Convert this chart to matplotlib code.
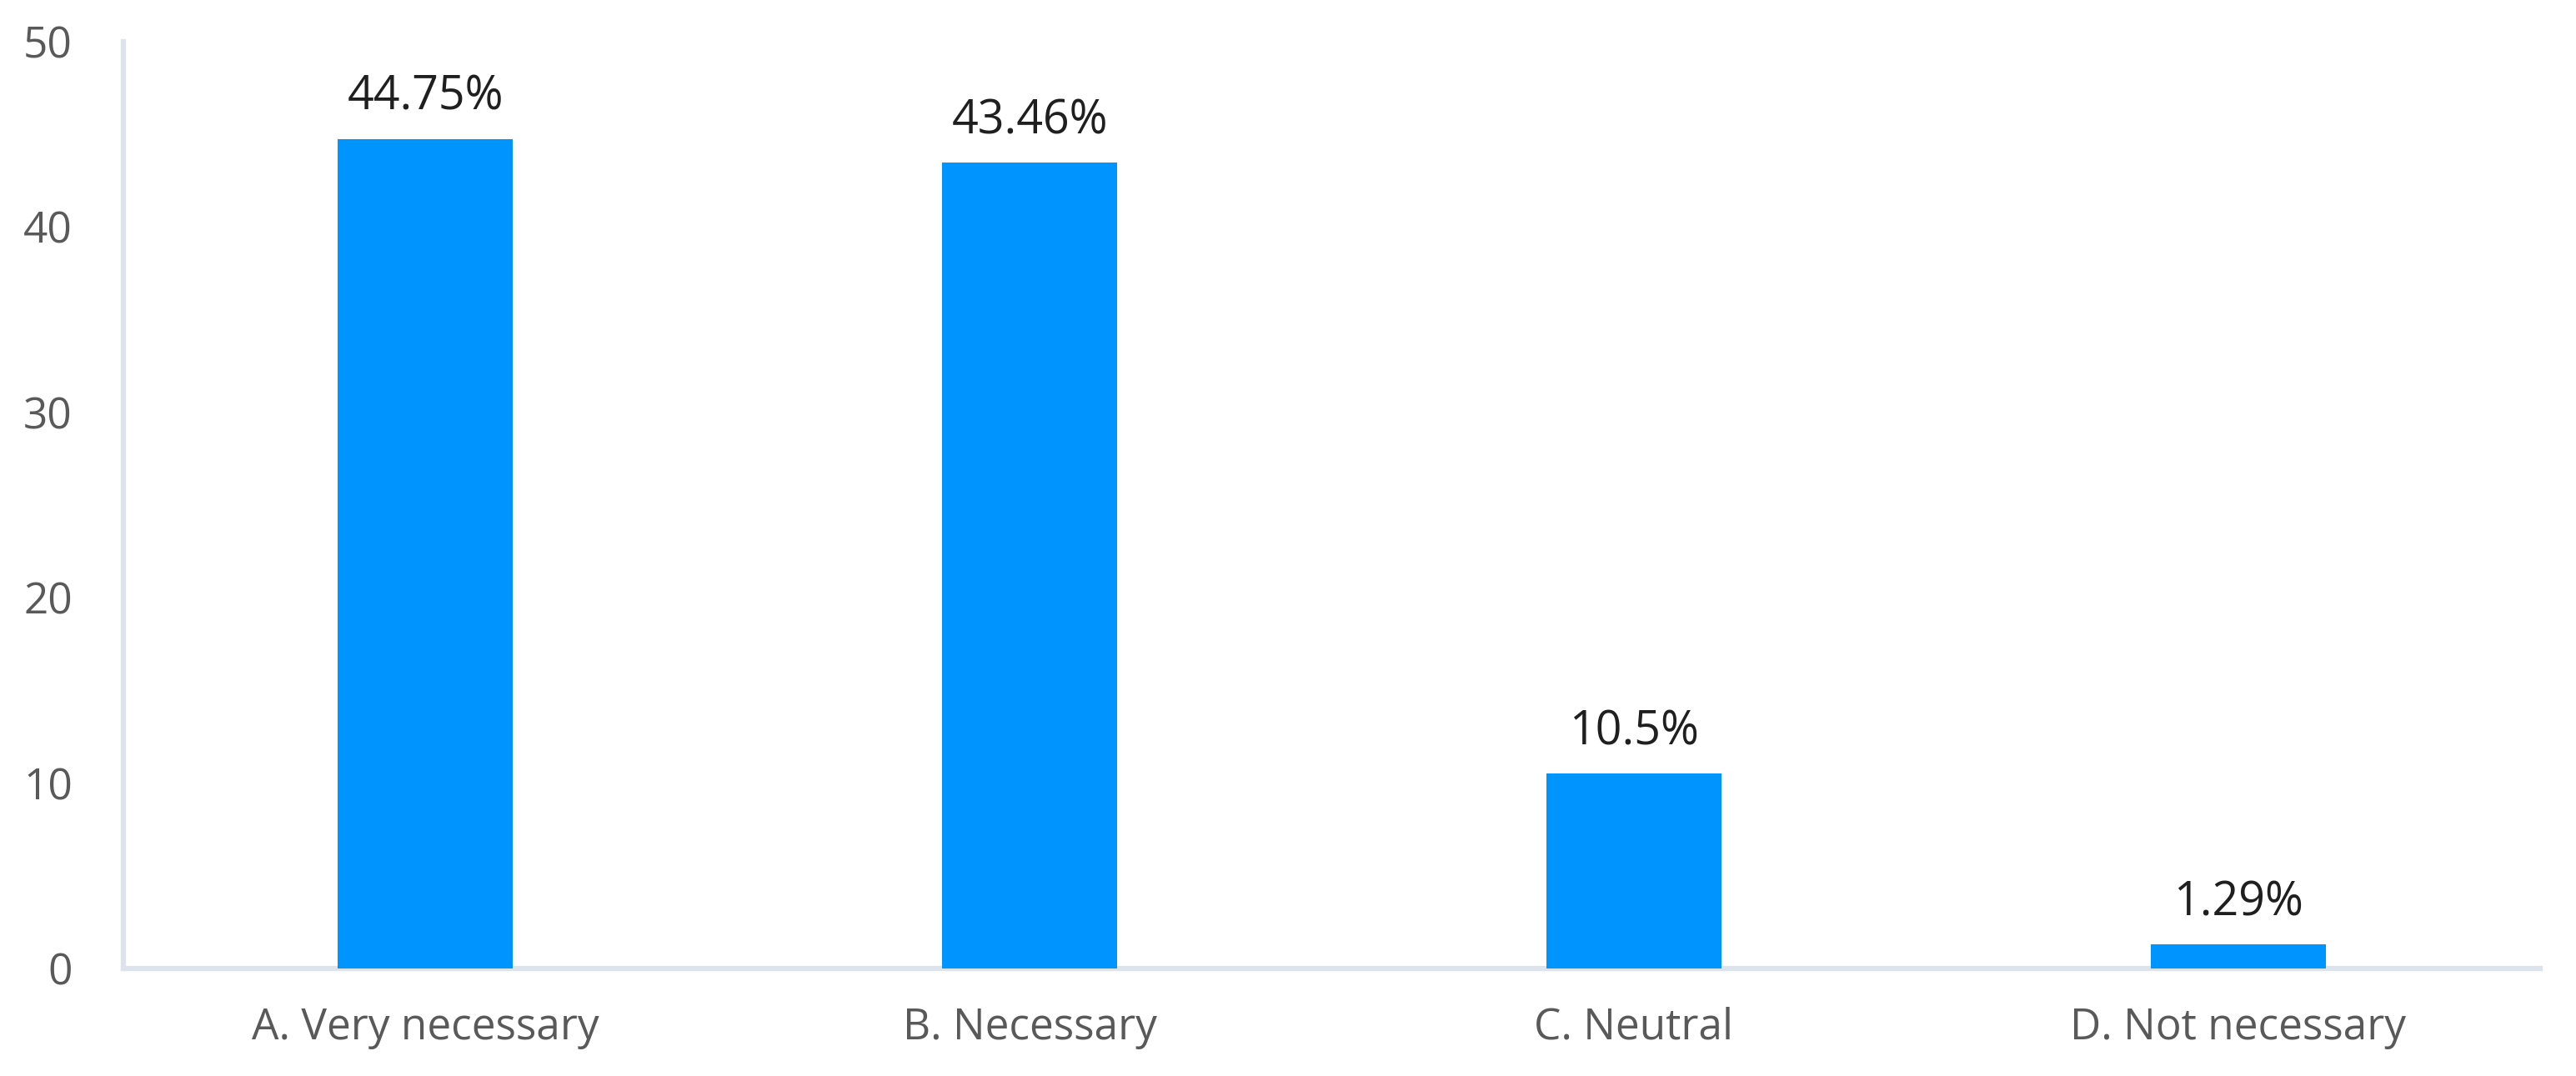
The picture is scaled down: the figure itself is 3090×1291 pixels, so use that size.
import matplotlib
matplotlib.use("Agg")
import matplotlib.pyplot as plt

categories = ["A. Very necessary", "B. Necessary", "C. Neutral", "D. Not necessary"]
values = [44.75, 43.46, 10.5, 1.29]
value_labels = ["44.75%", "43.46%", "10.5%", "1.29%"]
yticks = [0, 10, 20, 30, 40, 50]

plt.rcParams['font.family'] = ['Open Sans', 'DejaVu Sans']

fig = plt.figure(figsize=(30.9, 12.91), dpi=100)
ax = fig.add_axes([148/3090, 1 - 1162/1291, (3047-148)/3090, (1162-50)/1291])

x = range(len(categories))
ax.bar(x, values, width=0.29, color="#0094FF", zorder=3)

for xi, v, lab in zip(x, values, value_labels):
    ax.annotate(lab, (xi, v), xytext=(0, 15), textcoords="offset points",
                ha="center", va="bottom", fontsize=40, color="#1f1f1f")

ax.set_xlim(-0.5, len(categories) - 0.5)
ax.set_ylim(0, 50)
ax.set_yticks(yticks)
ax.set_xticks(list(x))
ax.set_xticklabels(categories)
ax.tick_params(axis="both", length=0, labelsize=37, labelcolor="#595959")
ax.tick_params(axis="x", pad=33)
ax.tick_params(axis="y", pad=44)

for s in ["top", "right"]:
    ax.spines[s].set_visible(False)
for s in ["left", "bottom"]:
    ax.spines[s].set_color("#DCE3ED")
    ax.spines[s].set_linewidth(4.5)

fig.savefig("out.png", dpi=100, facecolor="white")
